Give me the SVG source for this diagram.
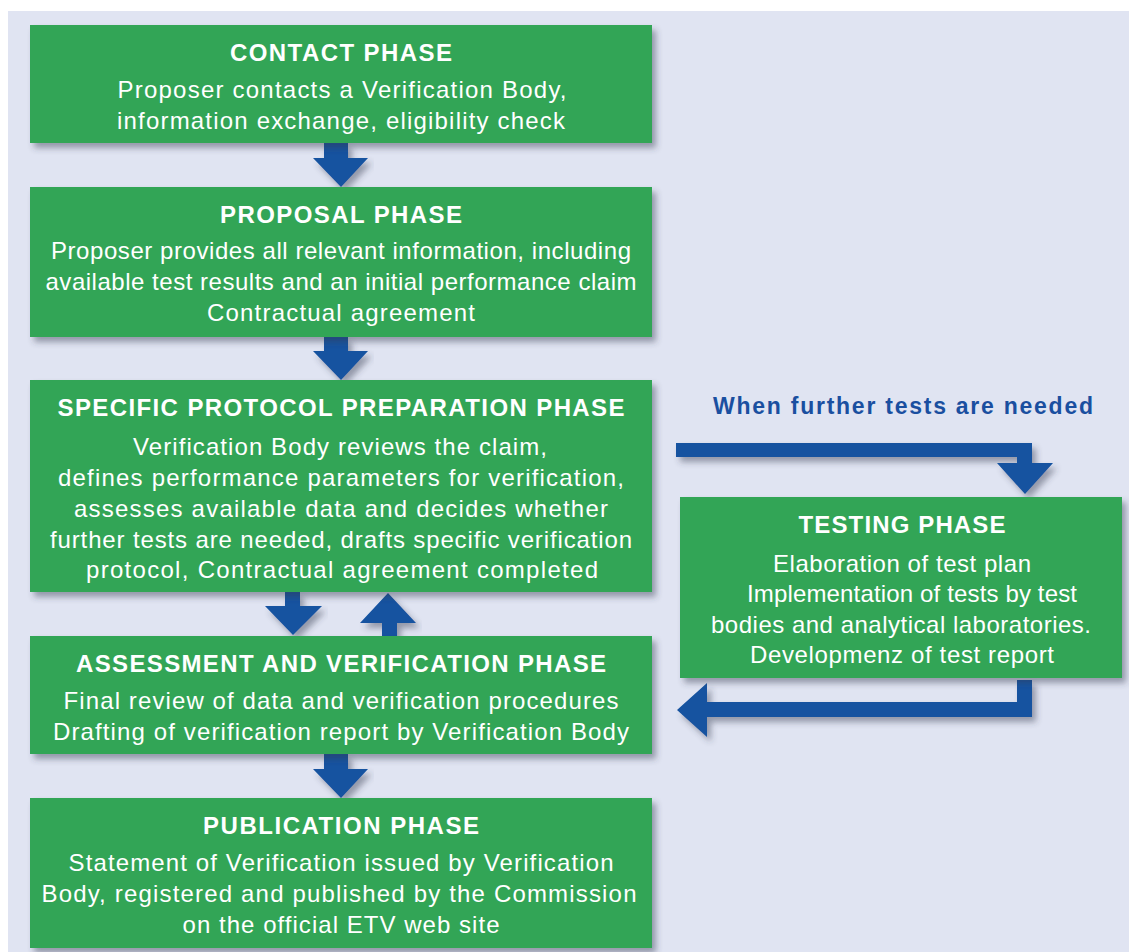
<svg xmlns="http://www.w3.org/2000/svg" width="1129" height="952" viewBox="0 0 1129 952">
<defs>
<filter id="sh" x="-5%" y="-10%" width="115%" height="130%">
<feDropShadow dx="4" dy="5" stdDeviation="3" flood-color="#303850" flood-opacity="0.45"/>
</filter>
<style>
.box{fill:#31a556;filter:url(#sh)}
.arr{fill:#1352a0;filter:url(#sh)}
.t{font-family:"Liberation Sans",Arial,sans-serif;fill:#fff;text-anchor:middle}
.h{font-weight:bold;font-size:24px}
.b{font-size:24px}
.lbl{font-family:"Liberation Sans",Arial,sans-serif;font-weight:bold;font-size:23px;fill:#1a4fa0}
</style>
</defs>
<rect width="1129" height="952" fill="#ffffff"/>
<rect x="8" y="11" width="1121" height="941" fill="#e0e4f2"/>
<g id="connectors">
<path class="arr" d="M324,143 H348 V158 H368 L341,187 L313,158 H324 Z"/>
<path class="arr" d="M324,337 H348 V351 H368 L341,380 L313,351 H324 Z"/>
<path class="arr" d="M285,592 H300 V606 H322 L293,635 L265,606 H285 Z"/>
<path class="arr" d="M382,636 V623 H360 L388,593 L416,623 H397 V636 Z"/>
<path class="arr" d="M324,754 H348 V769 H368 L341,798 L313,769 H324 Z"/>
<path class="arr" d="M676,443 H1032 V463 H1053 L1025,494 L997,463 H1017 V457 H676 Z"/>
<path class="arr" d="M1017,680 H1032 V717 H707 V737 L677,710 L707,683 V702 H1017 Z"/>
</g>
<text class="lbl" x="903" y="414" text-anchor="middle" textLength="380">When further tests are needed</text>
<g id="contact">
<rect class="box" x="30" y="25" width="622" height="118"/>
<text class="t h" x="341" y="61" textLength="222">CONTACT PHASE</text>
<text class="t b" x="342" y="98" textLength="449">Proposer contacts a Verification Body,</text>
<text class="t b" x="341" y="129" textLength="448">information exchange, eligibility check</text>
</g>
<g id="proposal">
<rect class="box" x="30" y="187" width="622" height="150"/>
<text class="t h" x="341" y="223" textLength="242">PROPOSAL PHASE</text>
<text class="t b" x="341" y="259" textLength="580">Proposer provides all relevant information, including</text>
<text class="t b" x="341" y="290" textLength="591">available test results and an initial performance claim</text>
<text class="t b" x="341" y="321" textLength="268">Contractual agreement</text>
</g>
<g id="protocol">
<rect class="box" x="30" y="380" width="622" height="212"/>
<text class="t h" x="341" y="416" textLength="567">SPECIFIC PROTOCOL PREPARATION PHASE</text>
<text class="t b" x="340" y="455" textLength="414">Verification Body reviews the claim,</text>
<text class="t b" x="341" y="486" textLength="566">defines performance parameters for verification,</text>
<text class="t b" x="341" y="517" textLength="534">assesses available data and decides whether</text>
<text class="t b" x="341" y="548" textLength="582">further tests are needed, drafts specific verification</text>
<text class="t b" x="342" y="578" textLength="512">protocol, Contractual agreement completed</text>
</g>
<g id="assessment">
<rect class="box" x="30" y="636" width="622" height="118"/>
<text class="t h" x="341" y="672" textLength="530">ASSESSMENT AND VERIFICATION PHASE</text>
<text class="t b" x="341" y="709" textLength="555">Final review of data and verification procedures</text>
<text class="t b" x="341" y="740" textLength="576">Drafting of verification report by Verification Body</text>
</g>
<g id="publication">
<rect class="box" x="30" y="798" width="622" height="150"/>
<text class="t h" x="341" y="834" textLength="276">PUBLICATION PHASE</text>
<text class="t b" x="341" y="871" textLength="545">Statement of Verification issued by Verification</text>
<text class="t b" x="339" y="902" textLength="595">Body, registered and published by the Commission</text>
<text class="t b" x="341" y="933" textLength="317">on the official ETV web site</text>
</g>
<g id="testing">
<rect class="box" x="680" y="497" width="442" height="181"/>
<text class="t h" x="902" y="533" textLength="207">TESTING PHASE</text>
<text class="t b" x="902" y="572" textLength="258">Elaboration of test plan</text>
<text class="t b" x="912" y="602" textLength="330">Implementation of tests by test</text>
<text class="t b" x="901" y="633" textLength="380">bodies and analytical laboratories.</text>
<text class="t b" x="902" y="663" textLength="304">Developmenz of test report</text>
</g>
</svg>
